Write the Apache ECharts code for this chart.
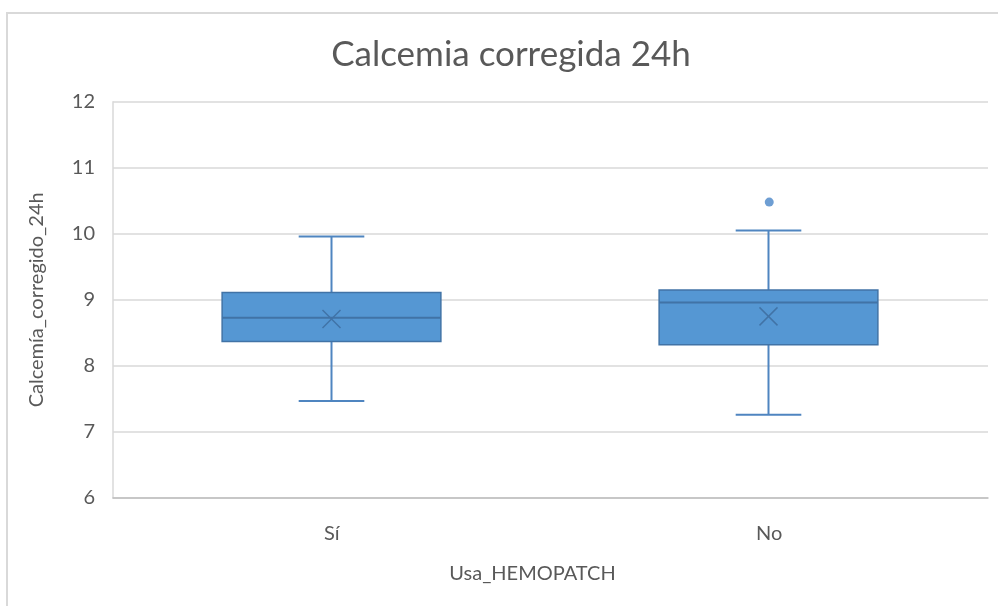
<!DOCTYPE html>
<html>
<head>
<meta charset="utf-8">
<title>Calcemia corregida 24h</title>
<script src="https://cdn.jsdelivr.net/npm/echarts@6/dist/echarts.min.js"></script>
<style>
  html, body { margin: 0; padding: 0; background: #ffffff; }
  #chart { width: 998px; height: 606px; }
</style>
</head>
<body>
<div id="chart"></div>
<script>
// Five-number summary per group, plus mean and outliers
const categories = ['Sí', 'No'];
const mins    = [7.47, 7.26];
const q1s     = [8.37, 8.32];
const medians = [8.73, 8.96];
const q3s     = [9.11, 9.15];
const maxs    = [9.96, 10.05];
const means   = [8.71, 8.75];
const outliers = [[1, 10.48]];
const yTicks = [6, 7, 8, 9, 10, 11, 12];

const BOX_FILL = '#5597d3';
const BOX_EDGE = '#4173a6';
const WHISKER = '#4f85c0';

const boxData = categories.map((c, i) => [i, mins[i], q1s[i], medians[i], q3s[i], maxs[i], means[i]]);

function renderBox(params, api) {
  const idx = api.value(0);
  const lo = api.coord([idx, api.value(1)]);
  const q1 = api.coord([idx, api.value(2)]);
  const md = api.coord([idx, api.value(3)]);
  const q3 = api.coord([idx, api.value(4)]);
  const hi = api.coord([idx, api.value(5)]);
  const mn = api.coord([idx, api.value(6)]);
  const band = api.size([1, 0])[0];
  const halfBox = band * 0.25;
  const halfCap = band * 0.075;
  const x = Math.round(lo[0]) - 0.5;
  const lineStyle = { stroke: WHISKER, lineWidth: 2 };
  const xs = 9;
  return {
    type: 'group',
    children: [
      { type: 'line', shape: { x1: x, y1: hi[1], x2: x, y2: q3[1] }, style: lineStyle },
      { type: 'line', shape: { x1: x, y1: q1[1], x2: x, y2: lo[1] }, style: lineStyle },
      { type: 'line', shape: { x1: x - halfCap, y1: hi[1], x2: x + halfCap, y2: hi[1] }, style: lineStyle },
      { type: 'line', shape: { x1: x - halfCap, y1: lo[1], x2: x + halfCap, y2: lo[1] }, style: lineStyle },
      {
        type: 'rect',
        shape: { x: x - halfBox, y: q3[1], width: halfBox * 2, height: q1[1] - q3[1] },
        style: { fill: BOX_FILL, stroke: BOX_EDGE, lineWidth: 1.5 }
      },
      { type: 'line', shape: { x1: x - halfBox, y1: md[1], x2: x + halfBox, y2: md[1] }, style: { stroke: BOX_EDGE, lineWidth: 2 } },
      { type: 'line', shape: { x1: x - xs, y1: mn[1] - xs, x2: x + xs, y2: mn[1] + xs }, style: { stroke: BOX_EDGE, lineWidth: 1.5 } },
      { type: 'line', shape: { x1: x - xs, y1: mn[1] + xs, x2: x + xs, y2: mn[1] - xs }, style: { stroke: BOX_EDGE, lineWidth: 1.5 } }
    ]
  };
}

const chart = echarts.init(document.getElementById('chart'), null, { renderer: 'canvas' });
const FONT = 'Lato';
const TEXT = '#595959';

chart.setOption({
  backgroundColor: '#ffffff',
  animation: false,
  title: {
    text: 'Calcemia corregida 24h',
    left: 506,
    top: 32,
    textAlign: 'center',
    textStyle: { fontFamily: FONT, fontSize: 35, fontWeight: 'normal', color: TEXT }
  },
  graphic: [{
    type: 'rect',
    shape: { x: 7, y: 13, width: 1000, height: 600 },
    style: { fill: 'none', stroke: '#d9d9d9', lineWidth: 2 },
    silent: true
  }],
  grid: { left: 113, right: 10, top: 101.7, bottom: 108 },
  xAxis: {
    type: 'category',
    data: categories,
    name: 'Usa_HEMOPATCH',
    nameLocation: 'middle',
    nameGap: 66,
    nameTextStyle: { fontFamily: FONT, fontSize: 20, color: TEXT, padding: [0, 36, 0, 0] },
    axisLine: { show: true, lineStyle: { color: '#bfbfbf', width: 1.5 } },
    axisTick: { show: false },
    axisLabel: { fontFamily: FONT, fontSize: 20, color: TEXT, margin: 26 },
    splitLine: { show: false }
  },
  yAxis: {
    type: 'value',
    min: yTicks[0],
    max: yTicks[yTicks.length - 1],
    interval: 1,
    name: 'Calcemía_corregido_24h',
    nameLocation: 'middle',
    nameGap: 66,
    nameTextStyle: { fontFamily: FONT, fontSize: 20, color: TEXT },
    axisLine: { show: true, lineStyle: { color: '#d9d9d9', width: 1.5 } },
    axisTick: { show: false },
    axisLabel: { fontFamily: FONT, fontSize: 20, color: TEXT, margin: 18 },
    splitLine: { show: true, lineStyle: { color: '#d9d9d9', width: 1.5 } }
  },
  series: [
    {
      type: 'custom',
      name: 'box',
      renderItem: renderBox,
      encode: { x: 0, y: [1, 2, 3, 4, 5, 6] },
      data: boxData,
      z: 3
    },
    {
      type: 'scatter',
      name: 'outlier',
      data: outliers,
      symbol: 'circle',
      symbolSize: 9,
      itemStyle: { color: '#4a86c8' },
      z: 4
    }
  ]
});
</script>
</body>
</html>
